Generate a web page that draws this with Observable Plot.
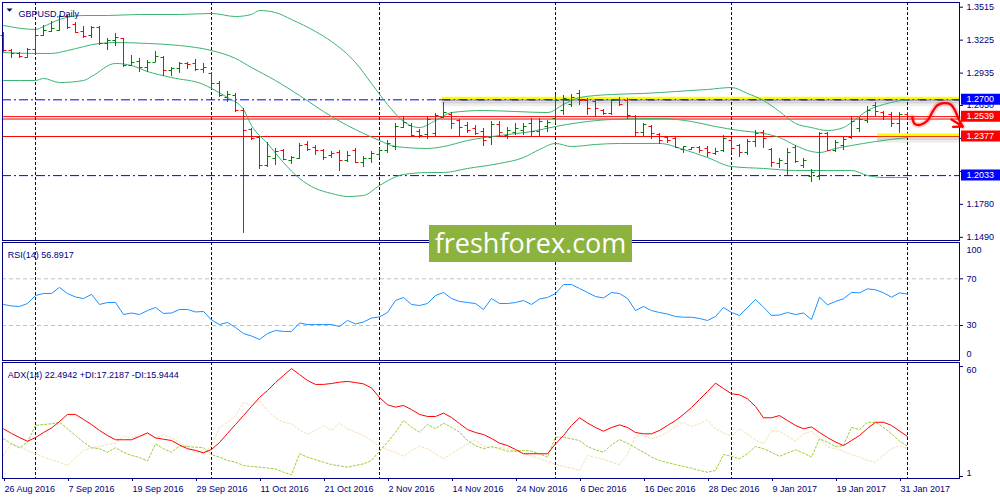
<!DOCTYPE html>
<html><head><meta charset="utf-8">
<script src="https://cdn.jsdelivr.net/npm/d3@7"></script>
<script src="https://cdn.jsdelivr.net/npm/@observablehq/plot@0.6"></script>
<style>
body{margin:0;background:#fff;}
#wrap{position:relative;width:1000px;height:500px;overflow:hidden;background:#fff;}
#wrap svg{position:absolute;left:0;}
#wm{position:absolute;left:429px;top:225px;width:203px;height:37px;background:#8db33f;color:#fff;font:27px 'Open Sans',sans-serif;line-height:36px;text-align:center;z-index:5;}
</style></head><body>
<div id="wrap"><div id="wm">freshforex.com</div></div>
<script>
// ---------- DATA ----------
const title = "GBPUSD,Daily";
const rsiTitle = "RSI(14) 56.8917";
const adxTitle = "ADX(14) 22.4942 +DI:17.2187 -DI:15.9444";

const open = [1.3266,1.3134,1.3108,1.3072,1.3143,1.3266,1.3301,1.3310,1.3433,1.3363,
1.3301,1.3266,1.3336,1.3196,1.3222,1.3240,1.3002,1.3037,1.2984,1.3028,
1.3072,1.2958,1.2976,1.3020,1.3020,1.2967,1.2932,1.2844,1.2720,1.2738,
1.2606,1.2439,1.2368,1.2122,1.2184,1.2254,1.2166,1.2184,1.2307,1.2280,
1.2254,1.2210,1.2236,1.2166,1.2254,1.2148,1.2184,1.2219,1.2254,1.2289,
1.2456,1.2474,1.2421,1.2395,1.2404,1.2544,1.2571,1.2518,1.2474,1.2448,
1.2421,1.2368,1.2483,1.2386,1.2412,1.2430,1.2492,1.2421,1.2465,1.2536,
1.2606,1.2659,1.2756,1.2694,1.2685,1.2606,1.2580,1.2703,1.2694,1.2553,
1.2412,1.2465,1.2395,1.2368,1.2360,1.2263,1.2263,1.2280,1.2272,1.2228,
1.2254,1.2342,1.2298,1.2236,1.2333,1.2412,1.2263,1.2140,1.2140,1.2280,
1.2122,1.2025,1.2025,1.2404,1.2254,1.2298,1.2368,1.2448,1.2518,1.2650,
1.2588,1.2571,1.2492,1.2571];
const high = [1.3292,1.3143,1.3116,1.3152,1.3319,1.3354,1.3389,1.3442,1.3442,1.3380,
1.3345,1.3345,1.3345,1.3240,1.3284,1.3240,1.3090,1.3064,1.3046,1.3125,
1.3081,1.2984,1.3028,1.3028,1.3055,1.3020,1.2940,1.2861,1.2773,1.2756,
1.2624,1.2448,1.2377,1.2324,1.2272,1.2263,1.2201,1.2316,1.2333,1.2298,
1.2263,1.2245,1.2254,1.2245,1.2272,1.2201,1.2245,1.2272,1.2342,1.2492,
1.2544,1.2492,1.2439,1.2544,1.2580,1.2676,1.2588,1.2527,1.2500,1.2474,
1.2448,1.2509,1.2509,1.2456,1.2492,1.2492,1.2536,1.2536,1.2518,1.2738,
1.2738,1.2747,1.2782,1.2712,1.2694,1.2615,1.2703,1.2720,1.2712,1.2562,
1.2492,1.2474,1.2404,1.2377,1.2368,1.2289,1.2280,1.2289,1.2289,1.2272,
1.2386,1.2351,1.2307,1.2351,1.2430,1.2430,1.2272,1.2184,1.2272,1.2298,
1.2184,1.2087,1.2412,1.2412,1.2342,1.2368,1.2544,1.2544,1.2641,1.2676,
1.2597,1.2588,1.2588,1.2588];
const low = [1.3116,1.3064,1.3064,1.3064,1.3116,1.3257,1.3292,1.3301,1.3319,1.3284,
1.3240,1.3240,1.3178,1.3134,1.3169,1.2984,1.2993,1.2940,1.2940,1.3028,
1.2905,1.2905,1.2932,1.2967,1.2949,1.2932,1.2800,1.2720,1.2676,1.2588,
1.1524,1.2342,1.2087,1.2104,1.2122,1.2166,1.2131,1.2175,1.2245,1.2210,
1.2166,1.2184,1.2069,1.2148,1.2140,1.2104,1.2140,1.2184,1.2228,1.2254,
1.2448,1.2368,1.2360,1.2351,1.2368,1.2536,1.2439,1.2377,1.2404,1.2386,
1.2289,1.2298,1.2368,1.2351,1.2386,1.2386,1.2377,1.2377,1.2412,1.2492,
1.2562,1.2632,1.2650,1.2562,1.2544,1.2562,1.2562,1.2641,1.2527,1.2377,
1.2377,1.2351,1.2307,1.2316,1.2272,1.2228,1.2254,1.2228,1.2192,1.2210,
1.2236,1.2228,1.2192,1.2210,1.2280,1.2272,1.2104,1.2096,1.2034,1.2140,
1.2096,1.1972,1.1990,1.2245,1.2236,1.2254,1.2351,1.2412,1.2492,1.2553,
1.2518,1.2456,1.2404,1.2544];
const close = [1.3134,1.3108,1.3081,1.3143,1.3266,1.3310,1.3328,1.3433,1.3336,1.3292,
1.3257,1.3336,1.3196,1.3222,1.3248,1.3002,1.3028,1.2984,1.3028,1.3081,
1.2958,1.2976,1.3020,1.3011,1.2967,1.2984,1.2844,1.2738,1.2747,1.2606,
1.2430,1.2360,1.2122,1.2201,1.2245,1.2175,1.2192,1.2298,1.2263,1.2254,
1.2192,1.2228,1.2166,1.2210,1.2148,1.2184,1.2228,1.2254,1.2316,1.2465,
1.2500,1.2386,1.2386,1.2527,1.2562,1.2588,1.2492,1.2456,1.2430,1.2404,
1.2342,1.2483,1.2412,1.2430,1.2448,1.2465,1.2421,1.2509,1.2500,1.2694,
1.2712,1.2720,1.2694,1.2624,1.2624,1.2580,1.2694,1.2659,1.2562,1.2412,
1.2483,1.2404,1.2342,1.2342,1.2280,1.2289,1.2280,1.2254,1.2236,1.2245,
1.2360,1.2272,1.2236,1.2333,1.2404,1.2360,1.2148,1.2166,1.2236,1.2157,
1.2166,1.2060,1.2404,1.2254,1.2324,1.2351,1.2509,1.2527,1.2606,1.2597,
1.2553,1.2492,1.2571,1.2553];

// Bollinger bands read at selected bars
const bbUpperIdx = [0,4,5,7,10,13,17,22,26,29,31,32,34,36,39,41,44,46,48,50,52,54,56,60,64,68,70,72,76,80,84,88,91,93,95,97,99,101,103,105,106,108,110,113];
const bbUpper = [1.3354,1.3319,1.3345,1.3407,1.3442,1.3442,1.3451,1.3451,1.3460,1.3433,1.3451,1.3486,1.3468,1.3407,1.3301,1.3213,1.3028,1.2844,1.2659,1.2509,1.2456,1.2518,1.2588,1.2606,1.2597,1.2588,1.2659,1.2720,1.2747,1.2756,1.2773,1.2791,1.2808,1.2756,1.2694,1.2597,1.2492,1.2456,1.2430,1.2456,1.2500,1.2606,1.2659,1.2703];
const bbMidIdx = [0,4,6,8,12,14,18,22,26,29,31,34,37,41,43,45,47,49,53,55,58,62,66,69,72,76,82,86,89,92,95,97,99,101,102,104,106,109,113];
const bbMid = [1.3116,1.3108,1.3108,1.3134,1.3196,1.3204,1.3196,1.3178,1.3134,1.3064,1.2984,1.2870,1.2738,1.2553,1.2474,1.2404,1.2342,1.2289,1.2272,1.2289,1.2342,1.2386,1.2421,1.2465,1.2500,1.2527,1.2536,1.2509,1.2465,1.2430,1.2404,1.2368,1.2298,1.2245,1.2236,1.2272,1.2298,1.2333,1.2368];
const bbLowerIdx = [0,4,5,7,10,11,14,16,18,21,25,26,28,30,31,33,35,37,39,41,43,45,47,50,53,55,58,62,65,67,69,71,74,77,82,85,88,91,95,99,103,106,108,110,113];
const bbLower = [1.2870,1.2870,1.2888,1.2852,1.2870,1.2905,1.3020,1.3002,1.2949,1.2896,1.2835,1.2800,1.2720,1.2615,1.2474,1.2316,1.2148,1.2008,1.1920,1.1876,1.1849,1.1858,1.1946,1.2043,1.2060,1.2060,1.2096,1.2140,1.2192,1.2263,1.2316,1.2289,1.2307,1.2316,1.2316,1.2263,1.2192,1.2113,1.2096,1.2078,1.2078,1.2078,1.2034,1.2016,1.2016];

const rsi = [48.0,46.7,46.3,48.8,55.7,57.4,57.4,62.6,57.4,54.4,
53.1,56.6,48.0,49.7,49.7,39.4,40.7,39.4,42.8,45.4,
40.3,40.7,43.7,43.7,41.6,42.0,34.7,30.8,32.6,28.3,
23.1,21.0,18.0,23.1,25.7,24.9,24.9,32.1,30.8,30.8,
30.8,30.8,29.1,34.3,31.3,33.0,36.4,37.3,41.1,51.4,
54.0,48.0,47.1,48.8,55.7,58.3,53.1,50.6,49.7,48.8,
43.7,53.1,48.8,48.8,49.7,51.4,48.0,52.7,54.0,57.4,
65.1,65.1,61.7,58.3,54.8,53.6,58.3,57.4,53.1,42.8,
46.3,42.8,41.1,39.8,37.7,37.1,37.1,36.0,34.3,37.7,
45.4,41.1,38.6,45.4,52.3,45.7,38.6,39.0,41.1,39.4,
40.7,35.1,54.2,47.7,50.6,52.9,58.3,58.0,61.4,60.6,
58.0,54.2,58.0,56.89];

const adx = [26.6,24.1,21.9,19.9,21.9,24.6,27.0,30.5,34.3,34.3,
31.6,28.9,25.7,23.0,20.7,20.7,20.7,22.5,24.4,21.7,
21.0,20.3,17.9,15.9,15.0,13.7,15.5,19.2,24.1,28.9,
33.7,38.6,43.4,47.1,51.4,55.2,58.9,55.7,52.5,50.4,
50.4,50.9,51.6,52.0,51.4,50.7,48.5,43.4,39.5,38.2,
39.1,36.9,34.3,33.2,33.2,35.0,32.7,29.4,26.2,24.6,
23.5,21.4,18.9,17.6,15.5,13.2,13.2,13.2,13.2,18.5,
23.0,28.4,32.5,29.7,27.3,25.3,27.3,28.7,27.3,24.6,
23.9,23.9,25.7,28.4,31.0,34.3,38.0,42.3,46.6,51.1,
48.2,45.4,44.8,42.7,38.6,32.5,32.5,33.7,31.0,28.4,
26.6,27.6,24.6,21.9,19.5,17.6,20.3,23.0,26.8,30.1,
30.1,28.4,25.4,22.49];
const plusDI = [21.2,18.5,16.4,19.4,28.4,28.9,29.3,30.1,26.6,23.0,
19.4,16.4,15.9,14.0,16.4,14.0,12.3,11.2,9.3,18.5,
15.9,14.0,17.4,17.1,16.7,16.4,12.8,11.4,9.6,8.7,
6.9,6.4,6.0,5.5,5.1,3.3,1.9,13.2,11.4,10.0,
8.7,7.4,6.7,6.0,6.9,7.8,9.6,14.6,19.4,24.8,
31.0,27.4,24.8,28.9,26.6,29.6,27.4,24.8,20.3,17.6,
15.9,17.1,15.9,14.6,14.6,15.0,14.6,13.2,11.4,22.1,
22.1,21.2,20.3,17.1,15.3,14.0,17.9,20.8,18.8,16.4,
14.0,11.4,9.6,8.4,7.4,6.4,5.5,4.2,3.3,4.2,
12.8,11.8,10.5,13.2,17.1,15.9,14.0,11.8,13.6,15.3,
13.6,11.4,21.2,19.4,17.1,17.6,27.4,26.2,30.1,30.1,
27.4,23.9,20.0,17.22];
const minusDI = [12.3,18.8,17.1,15.0,13.2,11.4,10.0,8.7,6.9,11.2,
15.0,16.4,17.1,18.2,18.8,22.6,21.9,22.6,23.9,21.9,
23.2,21.9,19.4,16.4,14.0,13.6,17.6,27.4,30.1,33.7,
40.9,39.1,41.8,36.4,32.5,30.1,29.3,26.1,23.7,25.7,
28.4,25.7,29.6,26.6,24.8,23.0,20.3,17.1,15.3,14.0,
11.8,15.0,17.1,15.9,13.2,10.5,13.2,15.9,18.5,20.6,
17.1,16.4,16.7,15.9,14.6,13.2,12.0,10.5,9.1,7.4,
6.4,5.5,4.2,12.3,11.2,10.3,8.7,7.4,12.8,22.6,
23.0,21.2,22.6,24.8,27.8,30.1,27.8,29.3,31.4,26.6,
24.3,22.6,26.6,23.7,20.6,18.5,25.7,25.2,22.6,20.0,
23.9,25.2,21.2,16.8,15.9,14.6,12.8,11.4,9.6,8.7,
12.3,15.9,17.6,15.94];

const tickIdx = [0,8,16,24,32,40,48,56,64,72,80,88,96,104,112];
const dateLabels = ["26 Aug 2016","7 Sep 2016","19 Sep 2016","29 Sep 2016","11 Oct 2016","21 Oct 2016","2 Nov 2016","14 Nov 2016","24 Nov 2016","6 Dec 2016","16 Dec 2016","28 Dec 2016","9 Jan 2017","19 Jan 2017","31 Jan 2017"];
const monthStartIdx = [4,26,47,69,91,113];
const priceTicks = [1.3515,1.3225,1.2935,1.2650,1.2360,1.2070,1.1780,1.1490];
const priceTicksCovered = [1.2360,1.2070]; // labels hidden behind the level boxes
const rsiLevels = [70,30];
const rsiEdges = [100,0];
const adxEdges = [60,1];

const blueLevels = [1.2700,1.2033];
const redLevels = [1.2552,1.2531,1.2377];
const yellowPrice = [1.2714,1.2393];
const yellowStart = [54.8,109.25];
const levelLabels = ["1.2700","1.2539","1.2377","1.2033"];
const levelLabelPrices = [1.2700,1.2552,1.2377,1.2033];
const levelLabelKind = ["blue","red","red","blue"];

const arrowIdx = [113.6,113.9,114.6,115.5,116.1,116.7,117.5,118.4,118.9,119.3,119.6,119.9];
const arrowP = [1.2547,1.2489,1.2480,1.2518,1.2591,1.2650,1.2670,1.2659,1.2612,1.2547,1.2503,1.2465];
const arrowHeadIdx = [118.5,119.9,118.7];
const arrowHeadP = [1.2527,1.2465,1.2462];

// ---------- STYLE ----------
const navy = "#000080", blue = "#0000ff", red = "#ff0000", green = "#008000";
const bbColor = "#3cb371";
const xDomain = [-0.125, 119.5];
const tick = 0.375;
const style = {fontFamily: "'Liberation Sans', Arial, sans-serif", fontSize: "9px", color: navy, background: "transparent", overflow: "visible"};
const colorOf = {blue: blue, red: red};

const barIdx = d3.range(open.length);
const bars = barIdx.map(i => ({i, open: open[i], high: high[i], low: low[i], close: close[i],
  col: close[i] >= open[i] ? green : red}));
const boxes = levelLabels.map((t, k) => ({label: t, p: levelLabelPrices[k], col: colorOf[levelLabelKind[k]]}));
const triangle = {draw(ctx) { ctx.moveTo(-3, -1.5); ctx.lineTo(3, -1.5); ctx.lineTo(0, 1.8); ctx.closePath(); }};
const fmt4 = d3.format(".4f");

const wrap = document.getElementById("wrap");

// ---------- PRICE PANEL ----------
const price = Plot.plot({
  width: 1000, height: 242, marginLeft: 2, marginRight: 41, marginTop: 2, marginBottom: 2,
  x: {domain: xDomain, axis: null, label: null},
  y: {domain: [1.1462, 1.35564], axis: null, label: null},
  color: {type: "identity"},
  style,
  marks: [
    Plot.ruleX(monthStartIdx, {stroke: navy, strokeDasharray: "3,2"}),
    Plot.ruleY(blueLevels, {stroke: blue, strokeDasharray: "9,3,2,3"}),
    Plot.ruleY(redLevels, {stroke: red}),
    Plot.ruleY(yellowPrice, {x1: yellowStart, x2: xDomain[1], stroke: "#000", strokeOpacity: 0.13, strokeWidth: 4, dy: 3}),
    Plot.ruleY(yellowPrice, {x1: yellowStart, x2: xDomain[1], stroke: "#000", strokeOpacity: 0.07, strokeWidth: 4, dy: 6}),
    Plot.ruleY(yellowPrice, {x1: yellowStart, x2: xDomain[1], stroke: "#ffff00", strokeWidth: 3}),
    Plot.ruleY([blueLevels[0]], {x1: yellowStart[0], x2: xDomain[1], stroke: "#000", strokeDasharray: "9,3,2,3"}),
    Plot.line(bbUpper, {x: bbUpperIdx, y: bbUpper, stroke: bbColor, strokeWidth: 1, curve: "monotone-x"}),
    Plot.line(bbMid, {x: bbMidIdx, y: bbMid, stroke: bbColor, strokeWidth: 1, curve: "monotone-x"}),
    Plot.line(bbLower, {x: bbLowerIdx, y: bbLower, stroke: bbColor, strokeWidth: 1, curve: "monotone-x"}),
    Plot.ruleX(bars, {x: "i", y1: "low", y2: "high", stroke: "col"}),
    Plot.link(bars, {x1: d => d.i - tick, x2: "i", y1: "open", y2: "open", stroke: "col"}),
    Plot.link(bars, {x1: "i", x2: d => d.i + tick, y1: "close", y2: "close", stroke: "col"}),
    Plot.frame({stroke: navy}),
    Plot.axisY({anchor: "right", ticks: priceTicks, tickFormat: d => priceTicksCovered.includes(d) ? "" : fmt4(d), tickSize: 3, tickPadding: 4, label: null}),
    Plot.ruleY(boxes, {y: "p", x1: 119.75, x2: 125.5, stroke: "col", strokeWidth: 11, dy: -0.5}),
    Plot.text(boxes, {y: "p", text: "label", frameAnchor: "right", dx: 7, dy: -0.5, textAnchor: "start", fill: "#fff"}),
    Plot.line(arrowIdx, {x: arrowIdx, y: arrowP, stroke: red, strokeOpacity: 0.18, strokeWidth: 6, curve: "catmull-rom"}),
    Plot.line(arrowIdx, {x: arrowIdx, y: arrowP, stroke: red, strokeWidth: 2.3, curve: "catmull-rom"}),
    Plot.line(arrowHeadIdx, {x: arrowHeadIdx, y: arrowHeadP, stroke: red, strokeWidth: 2.3}),
    Plot.dot([title], {frameAnchor: "top-left", dx: 7, dy: 7.5, symbol: triangle, r: 3, fill: navy, stroke: null}),
    Plot.text([title], {frameAnchor: "top-left", dx: 16, dy: 8.5, textAnchor: "start", fill: navy})
  ]
});
price.style.top = "0px";
wrap.appendChild(price);

// ---------- RSI PANEL ----------
const rsiPlot = Plot.plot({
  width: 1000, height: 120, marginLeft: 2, marginRight: 41, marginTop: 1, marginBottom: 1,
  x: {domain: xDomain, axis: null, label: null},
  y: {domain: [0, 101.1], axis: null, label: null},
  style,
  marks: [
    Plot.ruleY(rsiLevels, {stroke: "#c0c0c0", strokeDasharray: "4,3"}),
    Plot.ruleX(monthStartIdx, {stroke: navy, strokeDasharray: "3,2"}),
    Plot.line(rsi, {x: barIdx, y: rsi, stroke: "#1e90ff", strokeWidth: 1}),
    Plot.frame({stroke: navy}),
    Plot.axisY({anchor: "right", ticks: rsiLevels, tickSize: 3, tickPadding: 4, label: null}),
    Plot.text([rsiEdges[0]], {y: d => d, text: d => String(d), frameAnchor: "right", dx: 7, dy: 6.7, textAnchor: "start", fill: navy}),
    Plot.text([rsiEdges[1]], {y: d => d, text: d => String(d), frameAnchor: "right", dx: 7, dy: -6.5, textAnchor: "start", fill: navy}),
    Plot.text([rsiTitle], {frameAnchor: "top-left", dx: 5.3, dy: 9.3, textAnchor: "start", fill: navy})
  ]
});
rsiPlot.style.top = "241px";
wrap.appendChild(rsiPlot);

// ---------- ADX PANEL ----------
const adxPlot = Plot.plot({
  width: 1000, height: 139, marginLeft: 2, marginRight: 41, marginTop: 1, marginBottom: 22,
  x: {domain: xDomain, axis: null, label: null},
  y: {domain: [-0.073, 62.16], axis: null, label: null},
  style,
  marks: [
    Plot.ruleX(monthStartIdx, {stroke: navy, strokeDasharray: "3,2"}),
    Plot.line(minusDI, {x: barIdx, y: minusDI, stroke: "#f5deb3", strokeWidth: 1, strokeDasharray: "2,2"}),
    Plot.line(plusDI, {x: barIdx, y: plusDI, stroke: "#9acd32", strokeWidth: 1, strokeDasharray: "2,2"}),
    Plot.line(adx, {x: barIdx, y: adx, stroke: red, strokeWidth: 1}),
    Plot.frame({stroke: navy}),
    Plot.axisY({anchor: "right", ticks: adxEdges, tickFormat: () => "", tickSize: 3, label: null}),
    Plot.text([adxEdges[0]], {y: d => d, text: d => String(d), frameAnchor: "right", dx: 7, dy: 4, textAnchor: "start", fill: navy}),
    Plot.text([adxEdges[1]], {y: d => d, text: d => String(d), frameAnchor: "right", dx: 7, dy: -3.3, textAnchor: "start", fill: navy}),
    Plot.axisX({ticks: tickIdx, tickFormat: d => dateLabels[tickIdx.indexOf(d)], tickSize: 3, tickPadding: 4, textAnchor: "start", dx: 1, label: null}),
    Plot.text([adxTitle], {frameAnchor: "top-left", dx: 5.3, dy: 9.3, textAnchor: "start", fill: navy})
  ]
});
adxPlot.style.top = "361px";
wrap.appendChild(adxPlot);
</script>
</body></html>
